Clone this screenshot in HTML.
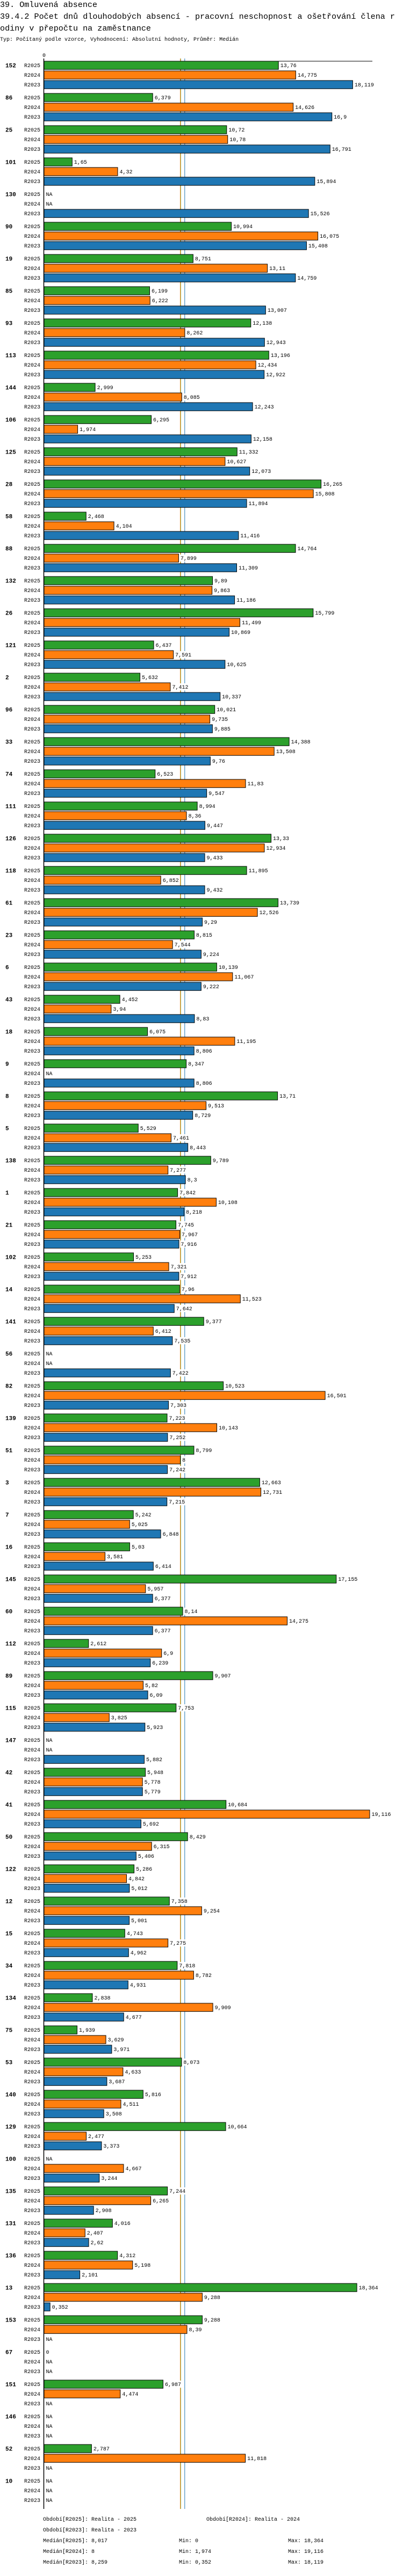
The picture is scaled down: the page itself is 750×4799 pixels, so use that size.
<!DOCTYPE html>
<html><head><meta charset="utf-8"><style>
html,body{margin:0;padding:0;background:#fff;}
svg text{font-family:"Liberation Mono","DejaVu Sans Mono",monospace;fill:#000;}
</style></head><body>
<svg id="chart" width="750" height="4794" xmlns="http://www.w3.org/2000/svg">
<text x="0" y="13" font-size="15" textLength="181" lengthAdjust="spacingAndGlyphs">39. Omluvená absence</text>
<text x="0" y="35" font-size="15" textLength="735" lengthAdjust="spacingAndGlyphs">39.4.2 Počet dnů dlouhodobých absencí - pracovní neschopnost a ošetřování člena r</text>
<text x="0" y="57" font-size="15" textLength="281" lengthAdjust="spacingAndGlyphs">odiny v přepočtu na zaměstnance</text>
<text x="0" y="76" font-size="10">Typ: Počítaný podle vzorce, Vyhodnocení: Absolutní hodnoty, Průměr: Medián</text>
<g id="plot"></g>
</svg>
<script>
const categories=["152","86","25","101","130","90","19","85","93","113","144","106","125","28","58","88","132","26","121","2","96","33","74","111","126","118","61","23","6","43","18","9","8","5","138","1","21","102","14","141","56","82","139","51","3","7","16","145","60","112","89","115","147","42","41","50","122","12","15","34","134","75","53","140","129","100","135","131","136","13","153","67","151","146","52","10"];
const r2025=[13.76,6.379,10.72,1.65,null,10.994,8.751,6.199,12.138,13.196,2.999,6.295,11.332,16.265,2.468,14.764,9.89,15.799,6.437,5.632,10.021,14.388,6.523,8.994,13.33,11.895,13.739,8.815,10.139,4.452,6.075,8.347,13.71,5.529,9.789,7.842,7.745,5.253,7.96,9.377,null,10.523,7.223,8.799,12.663,5.242,5.03,17.155,8.14,2.612,9.907,7.753,null,5.948,10.684,8.429,5.286,7.358,4.743,7.818,2.838,1.939,8.073,5.816,10.664,null,7.244,4.016,4.312,18.364,9.288,0,6.987,null,2.787,null];
const r2024=[14.775,14.626,10.78,4.32,null,16.075,13.11,6.222,8.262,12.434,8.085,1.974,10.627,15.808,4.104,7.899,9.863,11.499,7.591,7.412,9.735,13.508,11.83,8.36,12.934,6.852,12.526,7.544,11.067,3.94,11.195,null,9.513,7.461,7.277,10.108,7.967,7.321,11.523,6.412,null,16.501,10.143,8,12.731,5.025,3.581,5.957,14.275,6.9,5.82,3.825,null,5.778,19.116,6.315,4.842,9.254,7.275,8.782,9.909,3.629,4.633,4.511,2.477,4.667,6.265,2.407,5.198,9.288,8.39,null,4.474,null,11.818,null];
const r2023=[18.119,16.9,16.791,15.894,15.526,15.408,14.759,13.007,12.943,12.922,12.243,12.158,12.073,11.894,11.416,11.309,11.186,10.869,10.625,10.337,9.885,9.76,9.547,9.447,9.433,9.432,9.29,9.224,9.222,8.83,8.806,8.806,8.729,8.443,8.3,8.218,7.916,7.912,7.642,7.535,7.422,7.303,7.252,7.242,7.215,6.848,6.414,6.377,6.377,6.239,6.09,5.923,5.882,5.779,5.692,5.406,5.012,5.001,4.962,4.931,4.677,3.971,3.687,3.508,3.373,3.244,2.908,2.62,2.101,0.352,null,null,null,null,null,null];
const seriesNames=["R2025","R2024","R2023"];
const medians=[8.017,8,8.259];
const footerPeriods=["Období[R2025]: Realita - 2025","Období[R2024]: Realita - 2024","Období[R2023]: Realita - 2023"];
const footerMin=["0","1,974","0,352"];
const footerMax=["18,364","19,116","18,119"];

const colors=["#2ca02c","#ff7f0e","#1f77b4"];
const X0=82, SCALE=31.7, TOP=114, GROUP=60, PITCH=18, BH=15.3;
const xs=v=>X0+v*SCALE;
const rowY=(g,s)=>TOP+g*GROUP+s*PITCH;
const fmt=v=>String(v).replace('.',',');
const NS="http://www.w3.org/2000/svg";
const plotG=document.getElementById('plot');
function mk(tag,attrs,parent){const e=document.createElementNS(NS,tag);for(const k in attrs)e.setAttribute(k,attrs[k]);(parent||plotG).appendChild(e);return e;}
const plotBottom=TOP+categories.length*GROUP;

const medLayer=mk('g',{});
const barLayer=mk('g',{});
const labLayer=mk('g',{});

medians.forEach((m,i)=>{
  const l=mk('line',{x1:xs(m),x2:xs(m),y1:109,y2:plotBottom,stroke:colors[i],'stroke-width':1},medLayer);
  
  
});

const series=[r2025,r2024,r2023];
categories.forEach((c,g)=>{
  const t=mk('text',{x:10,y:rowY(g,0)+BH/2+4,'font-size':11,'font-weight':'bold'},labLayer);
  t.textContent=c;
  
  
  series.forEach((arr,s)=>{
    const y=rowY(g,s);
    const sl=mk('text',{x:45,y:y+BH/2+3.5,'font-size':10},labLayer);
    sl.textContent=seriesNames[s];
    
    
    const v=arr[g];
    if(v===null){
      const na=mk('text',{x:85.5,y:y+BH/2+3.5,'font-size':10},labLayer);
      na.textContent='NA';
      
      
      return;
    }
    if(v>0){
      const r=mk('rect',{x:X0,y:y,width:xs(v)-X0,height:BH,fill:colors[s],stroke:'#000','stroke-width':1},barLayer);
      
      
    }
    const txt=fmt(v);
    const tx=xs(v)+3.5;
    const bg=mk('rect',{x:tx-1,y:y+1,width:txt.length*6+2,height:BH-2,fill:'#fff'},labLayer);
    
    
    const vl=mk('text',{x:tx,y:y+BH/2+3.5,'font-size':10},labLayer);
    vl.textContent=txt;
    
    
  });
});

const axLine=mk('line',{x1:81.5,x2:81.5,y1:109,y2:plotBottom,stroke:'#000','stroke-width':1.5});


const topLine=mk('line',{x1:81,x2:693,y1:114,y2:114,stroke:'#000','stroke-width':1});


const zeroTick=mk('text',{x:79,y:106,'font-size':10});
zeroTick.textContent='0';



const fy=plotBottom+22;
const f1=mk('text',{x:80,y:fy,'font-size':10});f1.textContent=footerPeriods[0];


const f2=mk('text',{x:384,y:fy,'font-size':10});f2.textContent=footerPeriods[1];


const f3=mk('text',{x:80,y:fy+20,'font-size':10});f3.textContent=footerPeriods[2];


seriesNames.forEach((n,i)=>{
  const y=fy+40+i*20;
  const a=mk('text',{x:80,y:y,'font-size':10});a.textContent='Medián['+n+']: '+fmt(medians[i]);
  
  
  const b=mk('text',{x:333,y:y,'font-size':10});b.textContent='Min: '+footerMin[i];
  
  
  const d=mk('text',{x:536,y:y,'font-size':10});d.textContent='Max: '+footerMax[i];
  
  
});
</script>
</body></html>
